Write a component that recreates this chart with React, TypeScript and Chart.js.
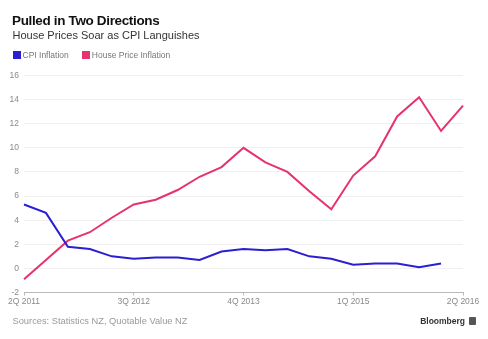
import React, { useEffect, useRef } from "react";
import { Chart, registerables } from "chart.js";

Chart.register(...registerables);

const quarters = [
  "2Q 2011", "3Q 2011", "4Q 2011", "1Q 2012", "2Q 2012", "3Q 2012", "4Q 2012",
  "1Q 2013", "2Q 2013", "3Q 2013", "4Q 2013", "1Q 2014", "2Q 2014", "3Q 2014",
  "4Q 2014", "1Q 2015", "2Q 2015", "3Q 2015", "4Q 2015", "1Q 2016", "2Q 2016",
];
const shownLabels = ["2Q 2011", "3Q 2012", "4Q 2013", "1Q 2015", "2Q 2016"];

const cpiInflation = [
  5.3, 4.6, 1.8, 1.6, 1.0, 0.8, 0.9, 0.9, 0.7, 1.4, 1.6, 1.5, 1.6, 1.0, 0.8,
  0.3, 0.4, 0.4, 0.1, 0.4, null,
];
const housePriceInflation = [
  -0.9, 0.7, 2.3, 3.0, 4.2, 5.3, 5.7, 6.5, 7.6, 8.4, 10.0, 8.8, 8.0, 6.4, 4.9,
  7.7, 9.3, 12.6, 14.2, 11.4, 13.5,
];

const BLUE = "#2b1fd2";
const PINK = "#e6336d";

export default function App() {
  const ref = useRef<HTMLCanvasElement>(null);

  useEffect(() => {
    if (!ref.current) return;
    const chart = new Chart(ref.current, {
      type: "line",
      data: {
        labels: quarters,
        datasets: [
          {
            label: "CPI Inflation",
            data: cpiInflation,
            borderColor: BLUE,
            backgroundColor: BLUE,
            borderWidth: 2,
            pointRadius: 0,
            tension: 0,
          },
          {
            label: "House Price Inflation",
            data: housePriceInflation,
            borderColor: PINK,
            backgroundColor: PINK,
            borderWidth: 2,
            pointRadius: 0,
            tension: 0,
          },
        ],
      },
      options: {
        animation: false,
        responsive: false,
        devicePixelRatio: 1,
        layout: { padding: { top: 75.5, left: 0, right: 25, bottom: 0 } },
        plugins: { legend: { display: false }, tooltip: { enabled: false } },
        scales: {
          x: {
            afterFit: (s: any) => {
              s.height = 46.5;
            },
            border: { display: true, color: "#b8b8b8", width: 1 },
            grid: {
              drawOnChartArea: false,
              tickLength: 3,
              color: (ctx: any) =>
                shownLabels.includes(quarters[ctx.index]) ? "#b8b8b8" : "rgba(0,0,0,0)",
            },
            ticks: {
              autoSkip: false,
              maxRotation: 0,
              padding: 1,
              color: "#8a8a8a",
              font: { family: "Liberation Sans, Arial, sans-serif", size: 8.5 },
              callback: (_v: any, i: number) =>
                shownLabels.includes(quarters[i]) ? quarters[i] : "",
            },
          },
          y: {
            min: -2,
            max: 16,
            afterFit: (s: any) => {
              s.width = 24;
            },
            border: { display: false },
            grid: { color: "#f0f0f0", drawTicks: false, lineWidth: 1 },
            ticks: {
              stepSize: 2,
              padding: 5,
              color: "#8a8a8a",
              font: { family: "Liberation Sans, Arial, sans-serif", size: 8.5 },
            },
          },
        },
      },
    });
    return () => chart.destroy();
  }, []);

  const font = "'Liberation Sans', Arial, sans-serif";

  return (
    <div
      style={{
        position: "absolute",
        left: 0,
        top: 0,
        width: 488,
        height: 339,
        background: "#fff",
        fontFamily: font,
        overflow: "hidden",
      }}
    >
      <canvas
        ref={ref}
        width={488}
        height={339}
        style={{ position: "absolute", left: 0, top: 0, width: 488, height: 339 }}
      />
      <div
        style={{
          position: "absolute",
          left: 12,
          top: 12.5,
          fontSize: 13.5,
          fontWeight: "bold",
          letterSpacing: -0.35,
          color: "#111",
          whiteSpace: "nowrap",
        }}
      >
        Pulled in Two Directions
      </div>
      <div
        style={{
          position: "absolute",
          left: 12.5,
          top: 29,
          fontSize: 11,
          color: "#333",
          whiteSpace: "nowrap",
        }}
      >
        House Prices Soar as CPI Languishes
      </div>
      <div
        style={{
          position: "absolute",
          left: 12.5,
          top: 50,
          fontSize: 8.5,
          color: "#777",
          whiteSpace: "nowrap",
          display: "flex",
          alignItems: "center",
          height: 9,
        }}
      >
        <span style={{ display: "inline-block", width: 8, height: 8, background: BLUE, marginRight: 2 }} />
        <span style={{ marginRight: 13 }}>CPI Inflation</span>
        <span style={{ display: "inline-block", width: 8, height: 8, background: PINK, marginRight: 2 }} />
        <span>House Price Inflation</span>
      </div>
      <div
        style={{
          position: "absolute",
          left: 12.5,
          top: 315.5,
          fontSize: 9.3,
          color: "#999",
          whiteSpace: "nowrap",
        }}
      >
        Sources: Statistics NZ, Quotable Value NZ
      </div>
      <div
        style={{
          position: "absolute",
          right: 12,
          top: 316,
          fontSize: 8.5,
          fontWeight: "bold",
          color: "#333",
          whiteSpace: "nowrap",
          display: "flex",
          alignItems: "center",
        }}
      >
        <span>Bloomberg</span>
        <span
          style={{
            display: "inline-block",
            width: 7,
            height: 8,
            background: "#555",
            borderRadius: 1,
            marginLeft: 4,
          }}
        />
      </div>
    </div>
  );
}
